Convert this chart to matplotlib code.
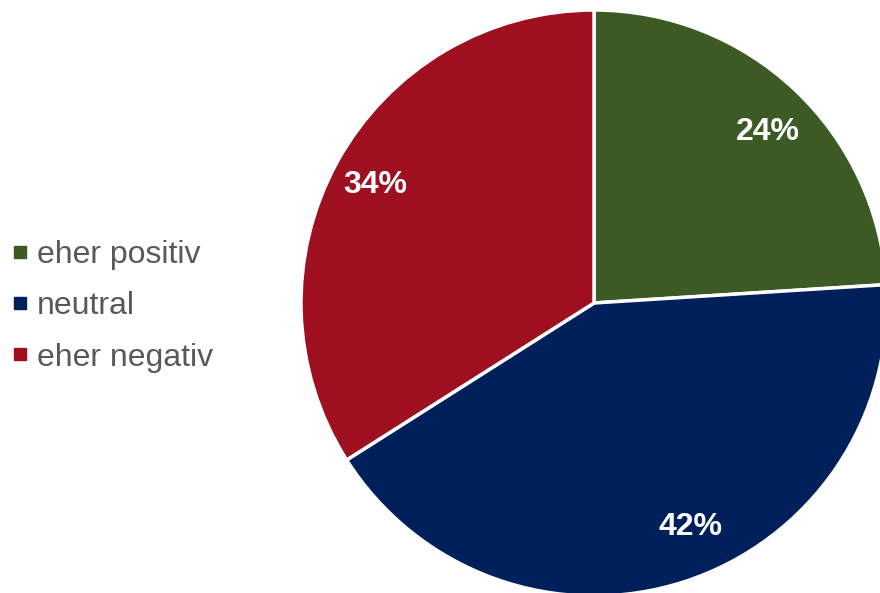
import matplotlib.pyplot as plt
from matplotlib.lines import Line2D

labels = ["eher positiv", "neutral", "eher negativ"]
shares = [24, 42, 34]
colors = ["#3C5A24", "#00205B", "#9E1020"]

plt.rcParams['font.family'] = ['Liberation Sans', 'DejaVu Sans']

fig = plt.figure(figsize=(8.8, 5.93), dpi=100)
# pie centre ~ (594, 303) px, radius ~293 px
ax = fig.add_axes([301/880, -3/593, 586/880, 586/593])

wedges, texts, autotexts = ax.pie(
    shares, colors=colors, startangle=90, counterclock=False,
    autopct='%1.0f%%', pctdistance=0.83,
    wedgeprops=dict(edgecolor='white', linewidth=2.5),
    textprops=dict(color='white', fontsize=23, fontweight='bold'))
ax.set_xlim(-1, 1)
ax.set_ylim(-1, 1)
ax.set_aspect('equal')
for w in wedges:
    w.set_clip_on(False)

# label placement as in the original (not exactly on the wedge bisector)
label_pos = [(0.594, 0.584), (0.328, -0.765), (-0.747, 0.403)]
for t, p in zip(autotexts, label_pos):
    t.set_position(p)

handles = [Line2D([], [], marker='s', linestyle='none', markersize=8,
                  markerfacecolor=c, markeredgecolor=c) for c in colors]
fig.legend(handles, labels, loc='center left', bbox_to_anchor=(0.0, 0.4836),
           frameon=False, fontsize=23, labelcolor='#595959',
           handlelength=0.85, handletextpad=0.1, labelspacing=0.67,
           borderaxespad=0.0, borderpad=0.2)

fig.savefig('out.png', dpi=100)
